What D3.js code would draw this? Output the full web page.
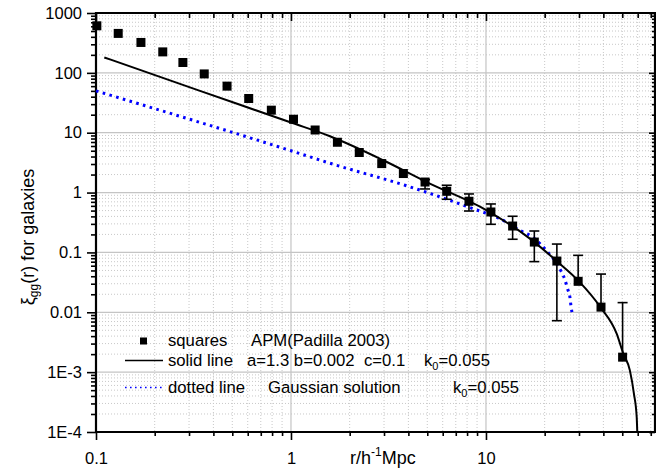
<!DOCTYPE html>
<html>
<head>
<meta charset="utf-8">
<script src="https://cdn.jsdelivr.net/npm/d3@7/dist/d3.min.js"></script>
<style>
  body { margin: 0; background: #fff; }
  svg { display: block; font-family: "Liberation Sans", Arial, sans-serif; }
</style>
</head>
<body>
<svg id="chart"></svg>
<script>
// APM squares (Padilla 2003)
var sqR = [0.101, 0.130, 0.170, 0.220, 0.279, 0.359, 0.470, 0.607, 0.793, 1.03, 1.33, 1.73, 2.24,
  2.92, 3.77, 4.87, 6.29, 8.18, 10.6, 13.7, 17.7, 23.1, 29.7, 38.9, 50.2]
var sqXi = [611, 456, 322, 224, 149, 96, 60, 37.3, 23.8, 16.8, 11.1, 6.93, 4.67,
  3.05, 2.08, 1.50, 1.05, 0.716, 0.474, 0.276, 0.149, 0.0718, 0.0329, 0.0122, 0.00178]
var errHi = [null, null, null, null, null, null, null, null, null, null, null, null, null,
  null, null, 1.65, 1.325, 0.948, 0.645, 0.402, 0.228, 0.138, 0.0894, 0.0435, 0.0145]
var errLo = [null, null, null, null, null, null, null, null, null, null, null, null, null,
  null, null, 1.149, 0.773, 0.492, 0.295, 0.166, 0.0702, 0.00724, null, null, null]

// solid line  a=1.3 b=0.002 c=0.1
var solidR = [0.1103, 0.3415, 1.0, 1.585, 2.974, 4.966, 10.08, 16.8, 23.05, 30.0, 38.7, 46.8,
  50.6, 54.7, 57.4, 59.3, 59.7]
var solidXi = [181, 50.0, 14.8, 8.74, 3.47, 1.50, 0.506, 0.170, 0.0718, 0.0329, 0.0121, 0.00439,
  0.00205, 0.00107, 0.000435, 0.000177, 0.0001]

// dotted line  Gaussian solution
var dotR = [0.1, 1.0, 1.648, 3.84, 8.11, 12.5, 14.9, 17.5, 20.5, 23.05, 24.25, 25.4, 26.2,
  26.97, 27.3, 27.8]
var dotXi = [50, 5.0, 2.97, 1.325, 0.574, 0.331, 0.234, 0.177, 0.1055, 0.065, 0.0489, 0.0351,
  0.0248, 0.01755, 0.01256, 0.00912]

var xTickVals = [0.1, 1, 10]
var xTickLabels = ["0.1", "1", "10"]
var yTickVals = [1e-4, 1e-3, 0.01, 0.1, 1, 10, 100, 1000]
var yTickLabels = ["1E-4", "1E-3", "0.01", "0.1", "1", "10", "100", "1000"]

var width = 656
var height = 469
var plot = { left: 96, right: 655, top: 13, bottom: 432 }

let svg = d3.select("#chart")
  .attr("width", width)
  .attr("height", height)

svg.append("rect").attr("width", width).attr("height", height).attr("fill", "#fff")

var x = d3.scaleLog().domain([0.1, 73.6]).range([plot.left, plot.right])
var y = d3.scaleLog().domain([1e-4, 1000]).range([plot.bottom, plot.top])

// minor ticks = every tick d3 gives that is not a decade
var xMinor = x.ticks().filter(v => xTickVals.indexOf(+v.toPrecision(6)) < 0)
var yMinor = y.ticks().filter(v => yTickVals.indexOf(+v.toPrecision(6)) < 0)

// grid
let grid = svg.append("g").attr("class", "grid")
grid.selectAll(".gx-minor").data(xMinor).enter().append("line")
  .attr("x1", d => x(d)).attr("x2", d => x(d))
  .attr("y1", plot.top).attr("y2", plot.bottom)
  .attr("stroke", "#c8c8c8").attr("stroke-dasharray", "1,2")
grid.selectAll(".gy-minor").data(yMinor).enter().append("line")
  .attr("y1", d => y(d)).attr("y2", d => y(d))
  .attr("x1", plot.left).attr("x2", plot.right)
  .attr("stroke", "#c8c8c8").attr("stroke-dasharray", "1,2")
grid.selectAll(".gx-major").data(xTickVals.slice(1)).enter().append("line")
  .attr("x1", d => x(d)).attr("x2", d => x(d))
  .attr("y1", plot.top).attr("y2", plot.bottom)
  .attr("stroke", "#c4c4c4").attr("stroke-width", 1.2)
grid.selectAll(".gy-major").data(yTickVals.slice(1, -1)).enter().append("line")
  .attr("y1", d => y(d)).attr("y2", d => y(d))
  .attr("x1", plot.left).attr("x2", plot.right)
  .attr("stroke", "#c4c4c4").attr("stroke-width", 1.2)

// axes
function styleAxis(g) {
  g.selectAll("path.domain").remove()
  g.selectAll("line").attr("stroke", "#000").attr("stroke-width", 1.6)
  g.selectAll("text").attr("fill", "#000").attr("font-size", 16.5)
}

svg.append("g").attr("transform", "translate(0," + plot.bottom + ")")
  .call(d3.axisBottom(x).tickValues(xMinor).tickSize(4).tickFormat(""))
  .call(styleAxis)
svg.append("g").attr("transform", "translate(0," + plot.bottom + ")")
  .call(d3.axisBottom(x).tickValues(xTickVals).tickSize(8).tickPadding(12)
    .tickFormat((d, i) => xTickLabels[i]))
  .call(styleAxis)

svg.append("g").attr("transform", "translate(" + plot.left + ",0)")
  .call(d3.axisLeft(y).tickValues(yMinor).tickSize(5).tickFormat(""))
  .call(styleAxis)
svg.append("g").attr("transform", "translate(" + plot.left + ",0)")
  .call(d3.axisLeft(y).tickValues(yTickVals).tickSize(9).tickPadding(5)
    .tickFormat((d, i) => yTickLabels[i]))
  .call(styleAxis)

svg.append("g").attr("transform", "translate(0," + plot.top + ")")
  .call(d3.axisTop(x).tickValues(xMinor).tickSize(-5).tickFormat(""))
  .call(styleAxis)
svg.append("g").attr("transform", "translate(0," + plot.top + ")")
  .call(d3.axisTop(x).tickValues(xTickVals).tickSize(-8).tickFormat(""))
  .call(styleAxis)

svg.append("g").attr("transform", "translate(" + plot.right + ",0)")
  .call(d3.axisRight(y).tickValues(yMinor).tickSize(-3).tickFormat(""))
  .call(styleAxis)
svg.append("g").attr("transform", "translate(" + plot.right + ",0)")
  .call(d3.axisRight(y).tickValues(yTickVals).tickSize(-6).tickFormat(""))
  .call(styleAxis)

// frame
svg.append("path")
  .attr("d", "M" + plot.left + "," + plot.bottom + "V" + plot.top + "H" + plot.right +
    "V" + plot.bottom + "Z")
  .attr("fill", "none").attr("stroke", "#000").attr("stroke-width", 2.2)

// curves
let line = d3.line()
  .x(d => x(d[0]))
  .y(d => y(d[1]))
  .curve(d3.curveMonotoneX)

svg.append("path")
  .datum(dotR.map((r, i) => [r, dotXi[i]]))
  .attr("d", line)
  .attr("fill", "none").attr("stroke", "#0000ff")
  .attr("stroke-width", 3).attr("stroke-dasharray", "2.6,4.4")

svg.append("path")
  .datum(solidR.map((r, i) => [r, solidXi[i]]))
  .attr("d", line)
  .attr("fill", "none").attr("stroke", "#000").attr("stroke-width", 2)

// error bars
let pts = sqR.map((r, i) => ({ r: r, v: sqXi[i], hi: errHi[i], lo: errLo[i] }))
let eb = svg.append("g").attr("class", "errorbars")
  .selectAll("g").data(pts.filter(d => d.hi != null)).enter().append("g")
eb.append("line")
  .attr("x1", d => x(d.r)).attr("x2", d => x(d.r))
  .attr("y1", d => y(d.hi)).attr("y2", d => d.lo != null ? y(d.lo) : y(d.v))
  .attr("stroke", "#000").attr("stroke-width", 1.6)
eb.append("line")
  .attr("x1", d => x(d.r) - 5).attr("x2", d => x(d.r) + 5)
  .attr("y1", d => y(d.hi)).attr("y2", d => y(d.hi))
  .attr("stroke", "#000").attr("stroke-width", 1.6)
eb.filter(d => d.lo != null).append("line")
  .attr("x1", d => x(d.r) - 5).attr("x2", d => x(d.r) + 5)
  .attr("y1", d => y(d.lo)).attr("y2", d => y(d.lo))
  .attr("stroke", "#000").attr("stroke-width", 1.6)

// squares
svg.append("g").selectAll("rect").data(pts).enter().append("rect")
  .attr("x", d => x(d.r) - 4.5).attr("y", d => y(d.v) - 4.5)
  .attr("width", 9).attr("height", 9)
  .attr("fill", "#000")

// legend
let lg = svg.append("g").attr("class", "legend").attr("font-size", 16.7).attr("fill", "#000")
lg.append("rect").attr("x", 140).attr("y", 337.5).attr("width", 7).attr("height", 7).attr("fill", "#000")
lg.append("line").attr("x1", 125).attr("x2", 163).attr("y1", 360.5).attr("y2", 360.5)
  .attr("stroke", "#000").attr("stroke-width", 1.6)
lg.append("line").attr("x1", 125).attr("x2", 163).attr("y1", 387.5).attr("y2", 387.5)
  .attr("stroke", "#0000ff").attr("stroke-width", 1.6).attr("stroke-dasharray", "1.6,3.4")

lg.append("text").attr("x", 168).attr("y", 346).text("squares")
lg.append("text").attr("x", 251).attr("y", 346).text("APM(Padilla 2003)")
lg.append("text").attr("x", 168).attr("y", 366).text("solid line")
lg.append("text").attr("x", 247).attr("y", 366).attr("xml:space", "preserve").text("a=1.3 b=0.002  c=0.1")
let k1 = lg.append("text").attr("x", 424).attr("y", 366)
k1.append("tspan").text("k")
k1.append("tspan").attr("font-size", 11).attr("dy", 4).text("0")
k1.append("tspan").attr("dy", -4).text("=0.055")
lg.append("text").attr("x", 168).attr("y", 393).text("dotted line")
lg.append("text").attr("x", 268).attr("y", 393).text("Gaussian solution")
let k2 = lg.append("text").attr("x", 453).attr("y", 393)
k2.append("tspan").text("k")
k2.append("tspan").attr("font-size", 11).attr("dy", 4).text("0")
k2.append("tspan").attr("dy", -4).text("=0.055")

// axis titles
let xt = svg.append("text").attr("x", 350).attr("y", 464).attr("font-size", 18)
xt.append("tspan").text("r/h")
xt.append("tspan").attr("font-size", 12).attr("dy", -8).text("-1")
xt.append("tspan").attr("dy", 8).text("Mpc")

let yt = svg.append("text")
  .attr("transform", "translate(34,237) rotate(-90)")
  .attr("text-anchor", "middle").attr("font-size", 18)
yt.append("tspan").text("ξ")
yt.append("tspan").attr("font-size", 12).attr("dy", 4).text("gg")
yt.append("tspan").attr("dy", -4).text("(r) for galaxies")
</script>
</body>
</html>
